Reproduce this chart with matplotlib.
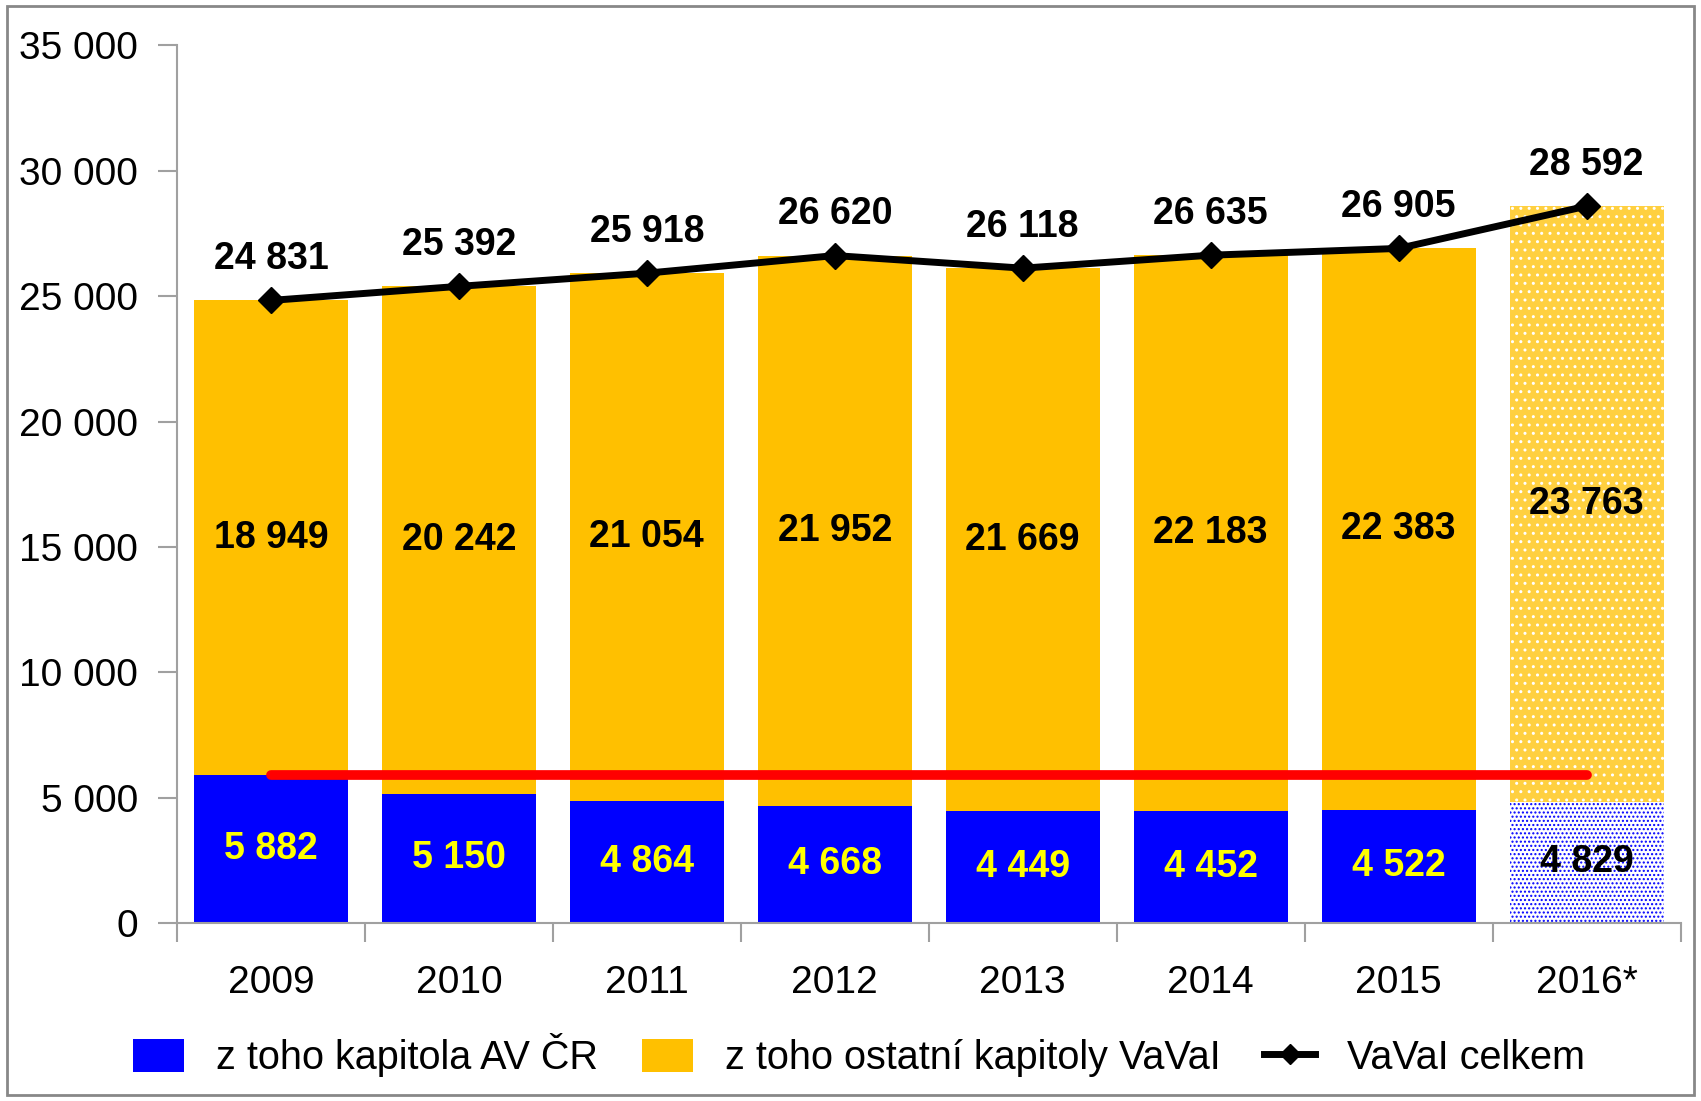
import numpy as np
import matplotlib
matplotlib.use('Agg')
import matplotlib.pyplot as plt
from matplotlib.patches import Rectangle, Patch
from matplotlib.lines import Line2D

plt.rcParams['font.family'] = ['Liberation Sans', 'DejaVu Sans']

years = ['2009', '2010', '2011', '2012', '2013', '2014', '2015', '2016*']
av_cr = [5882, 5150, 4864, 4668, 4449, 4452, 4522, 4829]
ostatni = [18949, 20242, 21054, 21952, 21669, 22183, 22383, 23763]
celkem = [24831, 25392, 25918, 26620, 26118, 26635, 26905, 28592]


def fmt(v):
    return f'{v:,}'.replace(',', ' ')


BLUE = '#0000FF'
GOLD = '#FFC000'

fig = plt.figure(figsize=(17.01, 11.01), dpi=100)
ax = fig.add_axes([0.104, 0.1617, 0.884, 0.797])

x = np.arange(len(years))
w = 0.82
n = len(years) - 1

# regular years
ax.bar(x[:n], av_cr[:n], w, color=BLUE, linewidth=0, zorder=2)
ax.bar(x[:n], ostatni[:n], w, bottom=av_cr[:n], color=GOLD, linewidth=0, zorder=2)

# 2016 preliminary, dotted fill
ax.bar(x[n], av_cr[n], w, color='white', linewidth=0, zorder=2)
ax.bar(x[n], av_cr[n], w, facecolor='none', edgecolor=BLUE, hatch='....', linewidth=0, zorder=2)
ax.bar(x[n], ostatni[n], w, bottom=av_cr[n], color='#FFD040', linewidth=0, zorder=2)
ax.bar(x[n], ostatni[n], w, bottom=av_cr[n], facecolor='none', edgecolor='white',
       hatch='..', linewidth=0, zorder=2)

# red reference line at 2009 level
ax.plot([x[0], x[-1]], [av_cr[0], av_cr[0]], color='#FF0000', lw=7,
        solid_capstyle='round', zorder=3)

# total line
ax.plot(x, celkem, color='black', lw=5, marker='D', markersize=13, zorder=4)

for i in range(len(years)):
    ax.text(x[i], celkem[i] + 1650, fmt(celkem[i]), ha='center', va='center',
            fontsize=27, fontweight='bold', color='black', zorder=5)
    ax.text(x[i], av_cr[i] + ostatni[i] / 2, fmt(ostatni[i]), ha='center', va='center',
            fontsize=27, fontweight='bold', color='black', zorder=5)
    ax.text(x[i], av_cr[i] / 2, fmt(av_cr[i]), ha='center', va='center',
            fontsize=27, fontweight='bold',
            color='black' if i == n else '#FFFF00', zorder=5)

ax.set_xlim(-0.5, len(years) - 0.5)
ax.set_ylim(0, 35000)
ax.set_yticks(np.arange(0, 35001, 5000))
ax.set_yticklabels([fmt(v) for v in range(0, 35001, 5000)], fontsize=28)
ax.set_xticks(x)
ax.set_xticklabels(years, fontsize=28)
ax.set_xticks(np.arange(-0.5, len(years)), minor=True)
ax.tick_params(axis='x', which='major', length=0, pad=30)
ax.tick_params(axis='x', which='minor', length=14, color='#A0A0A0', width=1.5)
ax.tick_params(axis='y', length=14, color='#A0A0A0', width=1.5, pad=14)

for s in ['top', 'right']:
    ax.spines[s].set_visible(False)
for s in ['left', 'bottom']:
    ax.spines[s].set_color('#A0A0A0')
    ax.spines[s].set_linewidth(1.5)

handles = [
    Patch(facecolor=BLUE, label='z toho kapitola AV ČR'),
    Patch(facecolor=GOLD, label='z toho ostatní kapitoly VaVaI'),
    Line2D([0], [0], color='black', lw=5, marker='D', markersize=10, label='VaVaI celkem'),
]
fig.legend(handles=handles, loc='center', bbox_to_anchor=(0.505, 0.042), ncol=3,
           frameon=False, fontsize=28.5, handlelength=1.3, handleheight=0.9,
           columnspacing=1.1, handletextpad=0.8)

fig.patches.append(Rectangle((0.004, 0.005), 0.992, 0.99, transform=fig.transFigure,
                             fill=False, edgecolor='#888888', lw=2))

fig.savefig('out.png', dpi=100)
